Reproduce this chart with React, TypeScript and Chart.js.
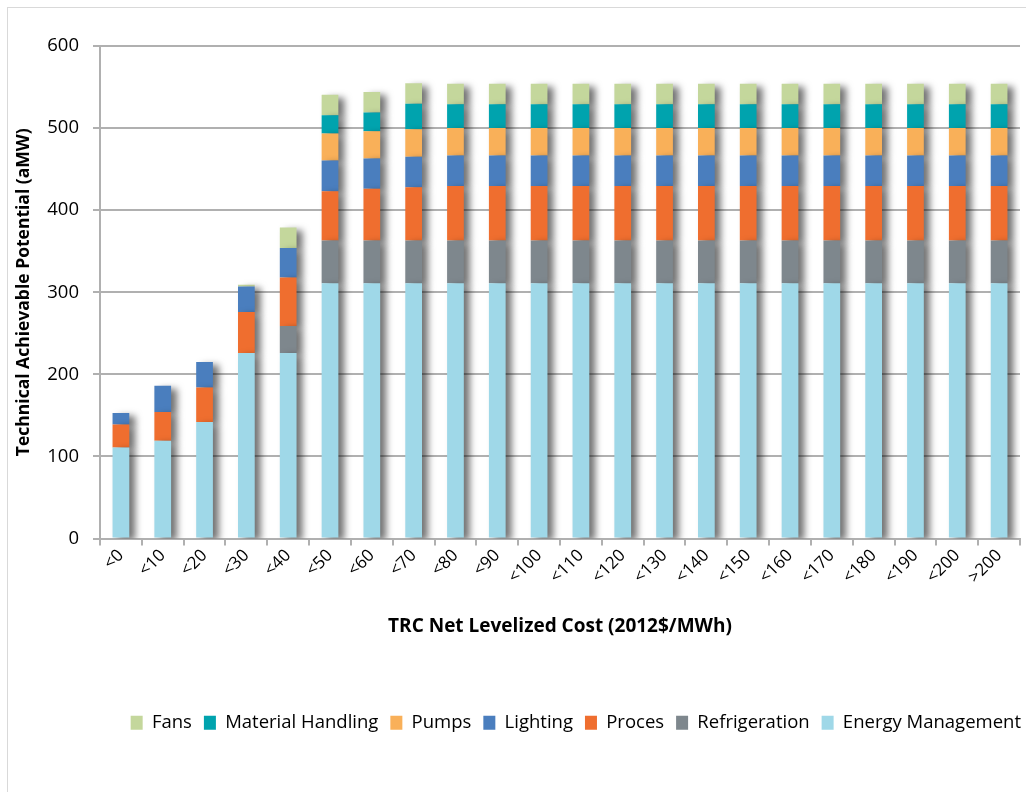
import React, { useEffect, useRef } from 'react';
import { Chart, registerables } from 'chart.js';

Chart.register(...registerables);

const categories = ['<0', '<10', '<20', '<30', '<40', '<50', '<60', '<70', '<80', '<90', '<100', '<110', '<120', '<130', '<140', '<150', '<160', '<170', '<180', '<190', '<200', '>200'];

const energyManagement = [111, 119, 142, 226, 226, 311, 311, 311, 311, 311, 311, 311, 311, 311, 311, 311, 311, 311, 311, 311, 311, 311];
const refrigeration = [0, 0, 0, 0, 33, 52, 52, 52, 52, 52, 52, 52, 52, 52, 52, 52, 52, 52, 52, 52, 52, 52];
const proces = [28, 35, 42, 50, 59, 60, 63, 65, 66.5, 66.5, 66.5, 66.5, 66.5, 66.5, 66.5, 66.5, 66.5, 66.5, 66.5, 66.5, 66.5, 66.5];
const lighting = [14, 32, 31, 31, 36, 37.5, 37, 37, 37, 37, 37, 37, 37, 37, 37, 37, 37, 37, 37, 37, 37, 37];
const pumps = [0, 0, 0, 0, 0, 33, 33, 33.5, 33.5, 33.5, 33.5, 33.5, 33.5, 33.5, 33.5, 33.5, 33.5, 33.5, 33.5, 33.5, 33.5, 33.5];
const materialHandling = [0, 0, 0, 0, 0, 22, 23, 31, 29, 29, 29, 29, 29, 29, 29, 29, 29, 29, 29, 29, 29, 29];
const fans = [0, 0, 0, 2, 25, 25, 25, 25, 25, 25, 25, 25, 25, 25, 25, 25, 25, 25, 25, 25, 25, 25];

const yTicks = [0, 100, 200, 300, 400, 500, 600];

const FONT = "'Open Sans', 'DejaVu Sans', sans-serif";
const GRID = '#B0B0B0';

const shadowPlugin = {
  id: 'barShadow',
  beforeDatasetsDraw(chart: any) {
    const ctx = chart.ctx;
    ctx.save();
    ctx.shadowColor = 'rgba(0,0,0,0.55)';
    ctx.shadowBlur = 7;
    ctx.shadowOffsetX = 6;
    ctx.shadowOffsetY = 3;
  },
  afterDatasetsDraw(chart: any) {
    chart.ctx.restore();
  },
};

export default function App() {
  const ref = useRef<HTMLCanvasElement>(null);

  useEffect(() => {
    const canvas = ref.current!;
    const chart = new Chart(canvas, {
      type: 'bar',
      data: {
        labels: categories,
        datasets: [
          { label: 'Energy Management', data: energyManagement, backgroundColor: '#9FD8E8' },
          { label: 'Refrigeration', data: refrigeration, backgroundColor: '#7E878D' },
          { label: 'Proces', data: proces, backgroundColor: '#EF6E2F' },
          { label: 'Lighting', data: lighting, backgroundColor: '#4A7EBE' },
          { label: 'Pumps', data: pumps, backgroundColor: '#F9B059' },
          { label: 'Material Handling', data: materialHandling, backgroundColor: '#00A3AE' },
          { label: 'Fans', data: fans, backgroundColor: '#C4D79C' },
        ],
      },
      options: {
        animation: false,
        responsive: false,
        devicePixelRatio: 1,
        datasets: { bar: { barPercentage: 0.4, categoryPercentage: 1 } },
        layout: { padding: { top: 37, right: 0, left: 0, bottom: 50 } },
        plugins: {
          legend: {
            position: 'bottom',
            align: 'end',
            reverse: true,
            labels: {
              boxWidth: 12,
              boxHeight: 14,
              padding: 12,
              color: '#000',
              font: { family: FONT, size: 18.5 },
            },
          },
          tooltip: { enabled: false },
        },
        scales: {
          x: {
            stacked: true,
            grid: { display: true, drawOnChartArea: false, drawTicks: true, tickLength: 7, color: GRID, lineWidth: 2 },
            border: { color: GRID, width: 2 },
            ticks: {
              minRotation: 45,
              maxRotation: 45,
              autoSkip: false,
              color: '#000',
              font: { family: FONT, size: 17 },
              padding: 0,
            },
            title: {
              display: true,
              text: 'TRC Net Levelized Cost (2012$/MWh)',
              color: '#000',
              font: { family: FONT, size: 19, weight: 'bold' },
              padding: { top: 0, bottom: 64 },
            },
            afterFit: (s: any) => { s.height = 163; },
          },
          y: {
            stacked: true,
            min: 0,
            max: 600,
            afterBuildTicks: (s: any) => { s.ticks = yTicks.map((v) => ({ value: v })); },
            ticks: { color: '#000', font: { family: FONT, size: 18.5 }, padding: 14 },
            grid: { color: GRID, lineWidth: 2, tickLength: 7 },
            border: { color: GRID, width: 2 },
            title: {
              display: true,
              text: 'Technical Achievable Potential (aMW)',
              color: '#000',
              font: { family: FONT, size: 17.5, weight: 'bold' },
              padding: { top: 5, bottom: 0 },
            },
            afterFit: (s: any) => { s.width = 91; },
          },
          yRight: {
            position: 'right',
            display: true,
            grid: { display: false },
            border: { display: false },
            ticks: { display: false },
            afterFit: (s: any) => { s.width = 13; },
          },
        },
      },
      plugins: [shadowPlugin],
    });
    return () => chart.destroy();
  }, []);

  return (
    <div style={{ position: 'fixed', left: 0, top: 0, width: 1026, height: 792, background: '#fff', overflow: 'hidden' }}>
      <div style={{ position: 'absolute', left: 7, top: 7, width: 1040, height: 800, border: '1px solid #D9D9D9', boxSizing: 'border-box' }} />
      <canvas ref={ref} width={1024} height={783} style={{ position: 'absolute', left: 9, top: 9, width: 1024, height: 783 }} />
    </div>
  );
}
